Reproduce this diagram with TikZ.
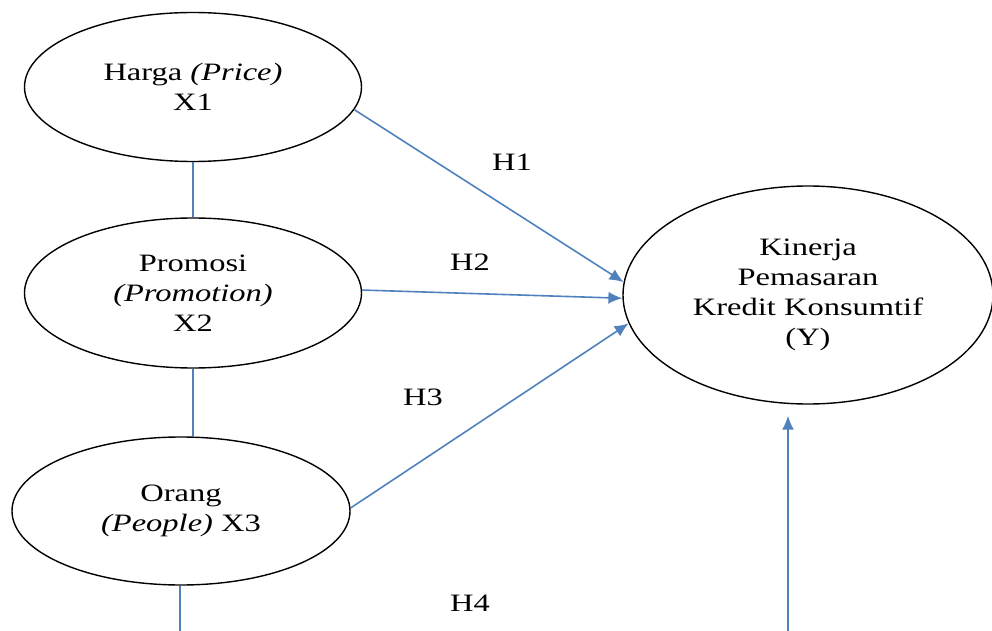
\documentclass[tikz,border=0pt]{standalone}
\usepackage{fontspec}
\setmainfont{Liberation Serif}[FakeStretch=1.3]
\usetikzlibrary{shapes.geometric,arrows.meta}
\definecolor{linkblue}{RGB}{79,129,189}
\tikzset{
    latent/.style={
           ellipse,
           draw=black, line width=0.7pt,
           inner sep=0pt,
           align=center,
           font=\fontsize{12.5}{15}\selectfont,
           },
    link/.style={
           draw=linkblue, line width=0.8pt,
           },
    hyp/.style={
           font=\fontsize{12.5}{15}\selectfont,
           },
}

\begin{document}
\begin{tikzpicture}[x=0.5pt,y=-0.5pt]
\useasboundingbox (0,0) rectangle (992,631);
\node[latent, minimum width=168.5pt, minimum height=74.5pt] (x1) at (193,87) {Harga \textit{(Price)}\\X1};
\node[latent, minimum width=168.5pt, minimum height=75pt] (x2) at (193,293) {Promosi\\\textit{(Promotion)}\\X2};
\node[latent, minimum width=169pt, minimum height=74pt] (x3) at (181,511) {Orang\\\textit{(People)} X3};
\node[latent, minimum width=185pt, minimum height=109pt] (y) at (808,295) {Kinerja\\Pemasaran\\Kredit Konsumtif\\(Y)};
\coordinate (x3end) at (180,631);
\coordinate (yend) at (788,631);
\node[hyp] (h1) at (512,162) {H1};
\node[hyp] (h2) at (470,262) {H2};
\node[hyp] (h3) at (423,397) {H3};
\node[hyp] (h4) at (470,603) {H4};
\draw[link] (x1.south) -- (x2.north);
\draw[link] (x2.south) -- (x2.south |- x3.north);
\draw[link] (x3.south -| x3end) -- (x3end);
\draw[link, -{Latex[length=7pt,width=6pt]}] (x1.-8) -- (y.176);
\draw[link, -{Latex[length=7pt,width=6pt]}] (x2.1.4) -- (y.181);
\draw[link, -{Latex[length=7pt,width=6pt]}] (x3.1.4) -- (y.189);
\draw[link, -{Latex[length=7pt,width=6pt]}, shorten >=5.5pt] (yend) -- (yend |- y.south);
\end{tikzpicture}
\end{document}
